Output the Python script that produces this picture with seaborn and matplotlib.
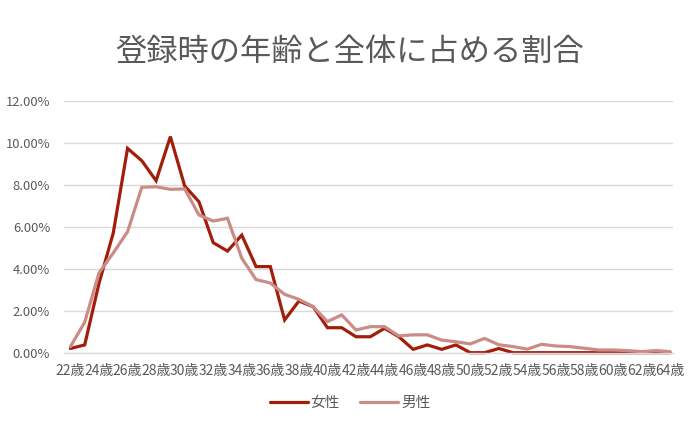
import numpy as np
import pandas as pd
import matplotlib
matplotlib.use("Agg")
import matplotlib.pyplot as plt
import seaborn as sns

ages = list(range(22, 65))
age_labels = [f"{a}歳" for a in ages]

female = [0.2, 0.37, 3.3, 5.7, 9.73, 9.14, 8.19, 10.29, 7.94, 7.19,
          5.24, 4.84, 5.6, 4.1, 4.1, 1.56, 2.46, 2.19, 1.19, 1.19,
          0.76, 0.76, 1.16, 0.76, 0.16, 0.37, 0.16, 0.37, 0.0, 0.0,
          0.2, 0.0, 0.0, 0.0, 0.0, 0.0, 0.0, 0.0, 0.0, 0.0,
          0.0, 0.0, 0.0]
male = [0.29, 1.45, 3.8, 4.75, 5.76, 7.88, 7.9, 7.78, 7.8, 6.56,
        6.27, 6.4, 4.5, 3.48, 3.32, 2.78, 2.54, 2.19, 1.48, 1.8,
        1.08, 1.24, 1.24, 0.8, 0.85, 0.85, 0.6, 0.52, 0.42, 0.68,
        0.38, 0.29, 0.17, 0.4, 0.32, 0.29, 0.21, 0.13, 0.13, 0.1,
        0.05, 0.1, 0.05]
series_names = ["女性", "男性"]
colors = {"女性": "#A21E0A", "男性": "#CB8C87"}
yticks = [0, 2, 4, 6, 8, 10, 12]
title = "登録時の年齢と全体に占める割合"

df = pd.DataFrame({
    "pos": list(range(len(ages))) * 2,
    "value": female + male,
    "series": [series_names[0]] * len(ages) + [series_names[1]] * len(ages),
})

sns.set_style("white")
plt.rcParams["font.family"] = ["Noto Sans CJK JP", "DejaVu Sans"]
text_color = "#595959"

fig = plt.figure(figsize=(7, 4.25), dpi=100)
ax = fig.add_axes([64 / 700, 1 - 352.7 / 425, (673 - 64) / 700, (352.7 - 100.7) / 425])

sns.lineplot(data=df, x="pos", y="value", hue="series", hue_order=series_names,
             palette=colors, linewidth=2.3, ax=ax, legend=False)
for ln in ax.get_lines():
    ln.set_clip_on(False)
    ln.set_solid_joinstyle("miter")

ax.set_xlim(-0.45, len(ages) - 1 + 0.2)
ax.set_ylim(0, 12)
ax.set_yticks(yticks)
ax.set_yticklabels([f"{v:.2f}%" for v in yticks], color=text_color, fontsize=9.3)
ax.set_xticks(range(0, len(ages), 2))
ax.set_xticklabels(age_labels[::2], color=text_color, fontsize=10)
ax.tick_params(axis="both", length=0)
ax.tick_params(axis="x", pad=8)
ax.tick_params(axis="y", pad=10)
ax.grid(axis="y", color="#D9D9D9", linewidth=1)
ax.set_axisbelow(True)
for s in ["top", "right", "left"]:
    ax.spines[s].set_visible(False)
ax.spines["bottom"].set_color("#D9D9D9")
ax.spines["bottom"].set_linewidth(1)
ax.set_xlabel("")
ax.set_ylabel("")

fig.text(0.5, 1 - 52 / 425, title, ha="center", va="center",
         fontsize=22.5, color=text_color)

handles = [plt.Line2D([], [], color=colors[n], linewidth=2.3) for n in series_names]
fig.legend(handles, series_names, loc="center", bbox_to_anchor=(0.5, 1 - 403 / 425),
           ncol=2, frameon=False, fontsize=10.5, labelcolor=text_color,
           handlelength=2.6, handletextpad=0.2, columnspacing=1.4)

fig.savefig("out.png", dpi=100)
